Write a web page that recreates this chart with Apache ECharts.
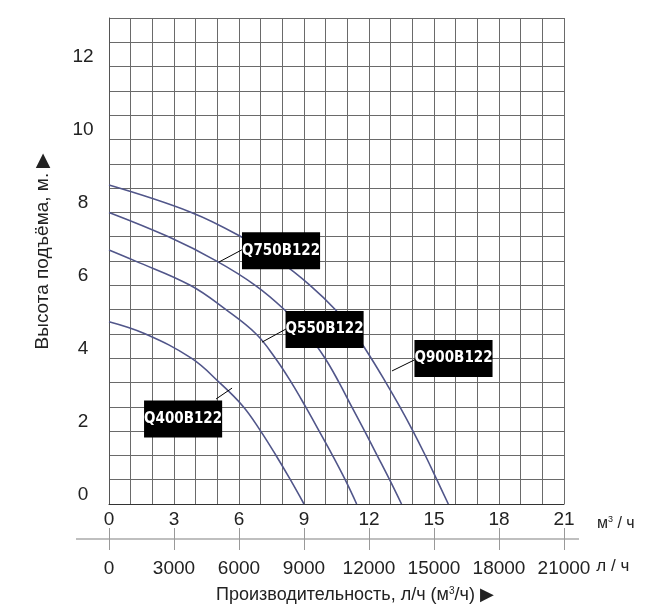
<!DOCTYPE html>
<html>
<head>
<meta charset="utf-8">
<script src="https://cdn.jsdelivr.net/npm/echarts@6/dist/echarts.min.js"></script>
<style>
  html, body { margin: 0; padding: 0; background: #fff; }
  #chart { width: 657px; height: 615px; }
</style>
</head>
<body>
<div id="chart"></div>
<script>
// напор (м) от подачи (м3/ч)
const q900 = [[0,8.75],[3.8,8.0],[6.1,7.33],[7.85,6.67],[9.28,6.0],[10.45,5.33],[11.35,4.67],[12.1,4.0],[12.78,3.33],[13.42,2.67],[14.03,2.0],[14.6,1.33],[15.13,0.667],[15.66,0]];
const q750 = [[0,8.0],[2.75,7.33],[4.95,6.67],[6.75,6.0],[8.1,5.33],[9.15,4.67],[9.97,4.0],[10.62,3.33],[11.2,2.67],[11.8,2.0],[12.38,1.33],[12.95,0.667],[13.5,0]];
const q550 = [[0,6.97],[1.2,6.67],[3.75,6.0],[5.4,5.33],[6.78,4.67],[7.68,4.0],[8.42,3.33],[9.07,2.67],[9.7,2.0],[10.32,1.33],[10.9,0.667],[11.43,0]];
const q400 = [[0,5.0],[1.66,4.67],[3.8,4.0],[5.1,3.33],[6.2,2.67],[7.0,2.0],[7.71,1.33],[8.37,0.667],[9.0,0]];

const curveNames = ['Q900B122', 'Q750B122', 'Q550B122', 'Q400B122'];
const curves = [q900, q750, q550, q400];

// подписи моделей и выноски (в единицах осей)
const tagAt = [[15.9,3.99],[7.94,6.95],[9.95,4.79],[3.42,2.33]];
const leaderFrom = [[14.26,4.0],[6.28,7.02],[8.26,4.83],[4.94,2.88]];
const leaderTo = [[13.06,3.65],[5.08,6.64],[7.06,4.44],[5.68,3.18]];

const flowMax = 21;     // м3/ч
const headMax = 40 / 3; // м
const headRows = 20;
const litersTicks = [0, 3000, 6000, 9000, 12000, 15000, 18000, 21000];

const font = 'Liberation Sans, Arial, sans-serif';
const lineColor = '#51568a';

let chart = echarts.init(document.getElementById('chart'));

let series = curves.map((c, i) => ({
  name: curveNames[i],
  type: 'line',
  data: c,
  smooth: 0.4,
  symbol: 'none',
  lineStyle: { color: lineColor, width: 1.6 },
  z: 3,
  markLine: {
    silent: true,
    symbol: 'none',
    label: { show: false },
    lineStyle: { color: '#000', width: 1, type: 'solid' },
    data: [[{ coord: leaderFrom[i] }, { coord: leaderTo[i] }]]
  }
}));

series.push({
  type: 'scatter',
  silent: true,
  symbolSize: 1,
  itemStyle: { color: '#000', opacity: 1 },
  z: 10,
  data: tagAt.map((p, i) => ({ value: p, name: curveNames[i] })),
  label: {
    show: true,
    position: 'inside',
    formatter: p => p.name,
    color: '#fff',
    fontFamily: 'DejaVu Sans Condensed, DejaVu Sans, sans-serif',
    fontWeight: 'bold',
    fontSize: 15,
    backgroundColor: '#000',
    lineHeight: 37,
    padding: [0, 0, 0, 0]
  }
});

chart.setOption({
  backgroundColor: '#fff',
  animation: false,
  title: {
    text: 'Производительность, л/ч (м{s|3}/ч) ▶',
    left: 211,
    top: 581,
    textStyle: {
      fontFamily: font, fontSize: 18, fontWeight: 'normal', color: '#222',
      rich: { s: { fontSize: 10, fontFamily: font, color: '#222', padding: [0, 0, 9, 0] } }
    }
  },
  grid: { left: 109, right: 93, top: 18, bottom: 111 },
  xAxis: [
    {
      type: 'value', min: 0, max: flowMax, interval: 1,
      name: 'м{s|3} / ч',
      nameLocation: 'end', nameGap: 33,
      nameTextStyle: {
        fontFamily: font, fontSize: 16, color: '#222', verticalAlign: 'top', padding: [11, 0, 0, 0],
        rich: { s: { fontSize: 9, fontFamily: font, color: '#222', padding: [0, 0, 8, 0] } }
      },
      axisLine: { show: true, lineStyle: { color: '#333', width: 1 } },
      axisTick: { show: false },
      axisLabel: {
        fontFamily: font, fontSize: 19, color: '#222', margin: 6,
        formatter: v => (v % 3 === 0 ? String(v) : '')
      },
      splitLine: { show: true, lineStyle: { color: '#6a6a6a', width: 1 } }
    },
    {
      type: 'value', min: 0, max: flowMax * 1000, interval: 3000,
      position: 'bottom', offset: 24,
      name: 'л / ч',
      nameLocation: 'end', nameGap: 21,
      nameTextStyle: { fontFamily: font, fontSize: 17, color: '#222', verticalAlign: 'top', padding: [54, 0, 0, 0] },
      axisLine: { show: false },
      axisTick: { show: false },
      axisLabel: { fontFamily: font, fontSize: 19, color: '#222', margin: 31, formatter: v => String(v) },
      splitLine: { show: false }
    }
  ],
  yAxis: [
    {
      type: 'value', min: 0, max: headMax, interval: 2,
      name: 'Высота подъёма, м. ▶',
      nameLocation: 'middle', nameGap: 57, nameRotate: 90,
      nameTextStyle: { fontFamily: font, fontSize: 19, color: '#222', padding: [0, 0, 0, 20] },
      axisLine: { show: false },
      axisTick: { show: false },
      axisLabel: {
        fontFamily: font, fontSize: 19, color: '#222', margin: 26,
        align: 'center', verticalAlign: 'bottom', showMaxLabel: false
      },
      splitLine: { show: false }
    },
    {
      type: 'value', min: 0, max: headRows, interval: 1,
      axisLine: { show: true, lineStyle: { color: '#555' } },
      position: 'left',
      axisTick: { show: false },
      axisLabel: { show: false },
      splitLine: { show: true, lineStyle: { color: '#6a6a6a', width: 1 } }
    }
  ],
  series: series
});

// вторая шкала (л/ч): длинная линия и засечки
let x0 = chart.convertToPixel({ xAxisIndex: 0 }, 0);
let x1 = chart.convertToPixel({ xAxisIndex: 0 }, flowMax);
let yb = chart.convertToPixel({ yAxisIndex: 1 }, 0);
let extra = [{
  type: 'line',
  silent: true,
  shape: { x1: x0 - 33, y1: yb + 35, x2: x1 + 15, y2: yb + 35 },
  style: { stroke: '#aaa', lineWidth: 1.5 }
}];
litersTicks.forEach(v => {
  let x = Math.round(chart.convertToPixel({ xAxisIndex: 1 }, v)) + 0.5;
  extra.push({
    type: 'line',
    silent: true,
    shape: { x1: x, y1: yb + 24, x2: x, y2: yb + 46 },
    style: { stroke: '#999', lineWidth: 1 }
  });
});
chart.setOption({ graphic: extra });
</script>
</body>
</html>
